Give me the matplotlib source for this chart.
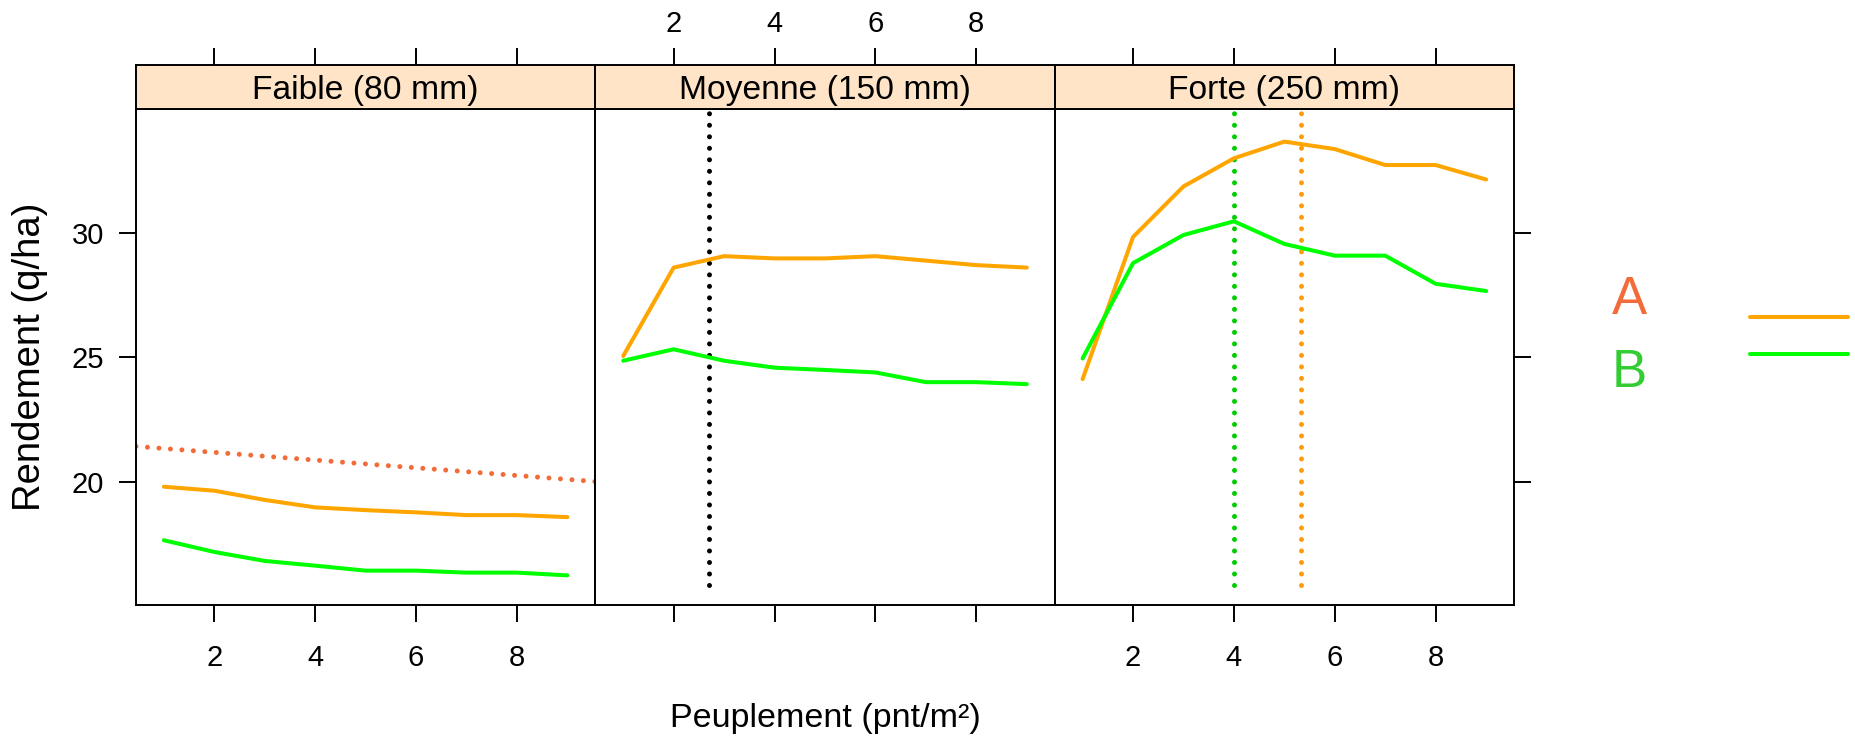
import matplotlib
matplotlib.use("Agg")
import matplotlib.pyplot as plt

plt.rcParams['font.family'] = ['Liberation Sans', 'DejaVu Sans']

# Plant density (plants per m²)
density = [1, 2, 3, 4, 5, 6, 7, 8, 9]

# Panel titles (water supply levels)
panel_titles = ["Faible (80 mm)", "Moyenne (150 mm)", "Forte (250 mm)"]

# Yield (q/ha) per variety and water supply
faible_A = [19.80, 19.64, 19.27, 18.97, 18.86, 18.77, 18.66, 18.66, 18.58]
faible_B = [17.65, 17.18, 16.82, 16.63, 16.43, 16.43, 16.35, 16.35, 16.24]
moyenne_A = [25.05, 28.60, 29.06, 28.97, 28.97, 29.06, 28.88, 28.70, 28.60]
moyenne_B = [24.86, 25.32, 24.86, 24.58, 24.49, 24.39, 24.00, 24.00, 23.92]
forte_A = [24.12, 29.83, 31.86, 32.99, 33.66, 33.36, 32.72, 32.72, 32.14]
forte_B = [24.95, 28.78, 29.91, 30.46, 29.55, 29.08, 29.08, 27.95, 27.66]

# Fitted trend for the low-water panel
trend_intercept = 21.49
trend_slope = -0.155

# Optimal densities (vertical reference lines)
optimum_moyenne = 2.71
optimum_forte_A = 5.34
optimum_forte_B = 4.0
optimum_ymin = 15.85

variety_labels = ["A", "B"]

x_ticks = [2, 4, 6, 8]
y_ticks = [20, 25, 30]

col_A = "#FFA500"
col_B = "#00FF00"
col_A_text = "#F26C3A"
col_B_text = "#33CC33"
col_opt_A = "#FF9C0A"
col_opt_B = "#00CC00"
strip_col = "#FFE4C8"

W, H, DPI = 1856, 741, 100
fig = plt.figure(figsize=(W / DPI, H / DPI), dpi=DPI)


def rect(x0, y0, x1, y1):
    return [x0 / W, 1 - y1 / H, (x1 - x0) / W, (y1 - y0) / H]


edges = [136, 595.3, 1054.7, 1514]
panel_top, panel_bot, strip_top = 109, 605, 65
xlim = (0.447, 9.553)
ylim = (15.05, 34.97)

tick_len = 12.2
tick_w = 1.4
spine_w = 1.4
tick_fs = 21
line_w = 2.9
dot_lw = 3.6
dot_style = (0, (0.001, 2.3))

series = [(faible_A, faible_B), (moyenne_A, moyenne_B), (forte_A, forte_B)]

for i, title in enumerate(panel_titles):
    ax = fig.add_axes(rect(edges[i], panel_top, edges[i + 1], panel_bot))
    ax.set_xlim(*xlim)
    ax.set_ylim(*ylim)
    for sp in ax.spines.values():
        sp.set_linewidth(spine_w)
    ya, yb = series[i]
    ax.plot(density, ya, color=col_A, lw=line_w,
            solid_capstyle='round', solid_joinstyle='round', zorder=3)
    ax.plot(density, yb, color=col_B, lw=line_w,
            solid_capstyle='round', solid_joinstyle='round', zorder=3)

    ax.set_xticks(x_ticks)
    ax.tick_params(axis='x', which='both', direction='out', length=tick_len,
                   width=tick_w, top=False, bottom=True,
                   labelbottom=(i != 1), labelsize=tick_fs, pad=16)
    ax.set_yticks(y_ticks)
    ax.tick_params(axis='y', direction='out', length=tick_len, width=tick_w,
                   left=(i == 0), right=(i == 2), labelleft=(i == 0),
                   labelright=False, labelsize=tick_fs, pad=11)

    if i == 0:
        ax.axline((0, trend_intercept), slope=trend_slope, color=col_A_text,
                  lw=dot_lw, ls=dot_style, dash_capstyle='round', zorder=2)
    elif i == 1:
        ax.plot([optimum_moyenne, optimum_moyenne], [optimum_ymin, 36],
                color="black", lw=dot_lw, ls=dot_style, dash_capstyle='round',
                zorder=2)
    else:
        ax.plot([optimum_forte_B, optimum_forte_B], [optimum_ymin, 36],
                color=col_opt_B, lw=dot_lw, ls=dot_style,
                dash_capstyle='round', zorder=2)
        ax.plot([optimum_forte_A, optimum_forte_A], [optimum_ymin, 36],
                color=col_opt_A, lw=dot_lw, ls=dot_style,
                dash_capstyle='round', zorder=2)

    # strip with the panel title, carrying the top axis ticks
    st = fig.add_axes(rect(edges[i], strip_top, edges[i + 1], panel_top))
    st.set_facecolor(strip_col)
    st.set_xlim(*xlim)
    st.set_ylim(0, 1)
    for sp in st.spines.values():
        sp.set_linewidth(spine_w)
    st.set_yticks([])
    st.set_xticks(x_ticks)
    st.tick_params(axis='x', direction='out', length=tick_len, width=tick_w,
                   bottom=False, labelbottom=False, top=True,
                   labeltop=(i == 1), labelsize=tick_fs, pad=7)
    st.text(0.5, 0.42, title, transform=st.transAxes, ha='center',
            va='center', fontsize=24.2)

fig.text(30 / W, 1 - 357 / H, "Rendement (q/ha)", rotation=90,
         ha='center', va='center', fontsize=27.5)
fig.text(825 / W, 1 - 719 / H, "Peuplement (pnt/m²)", ha='center',
         va='center', fontsize=24.5)

# legend: variety names and line keys
leg_y_text = [300, 373]
leg_y_line = [316.7, 354]
leg_text_cols = [col_A_text, col_B_text]
leg_line_cols = [col_A, col_B]
for lab, yt, yl, tc, lc in zip(variety_labels, leg_y_text, leg_y_line,
                               leg_text_cols, leg_line_cols):
    fig.text(1629 / W, 1 - yt / H, lab, color=tc, ha='center', va='center',
             fontsize=38)
    fig.add_artist(plt.Line2D([1750 / W, 1848 / W], [1 - yl / H, 1 - yl / H],
                              transform=fig.transFigure, color=lc, lw=line_w,
                              solid_capstyle='round'))

fig.savefig("out.png", dpi=DPI)
